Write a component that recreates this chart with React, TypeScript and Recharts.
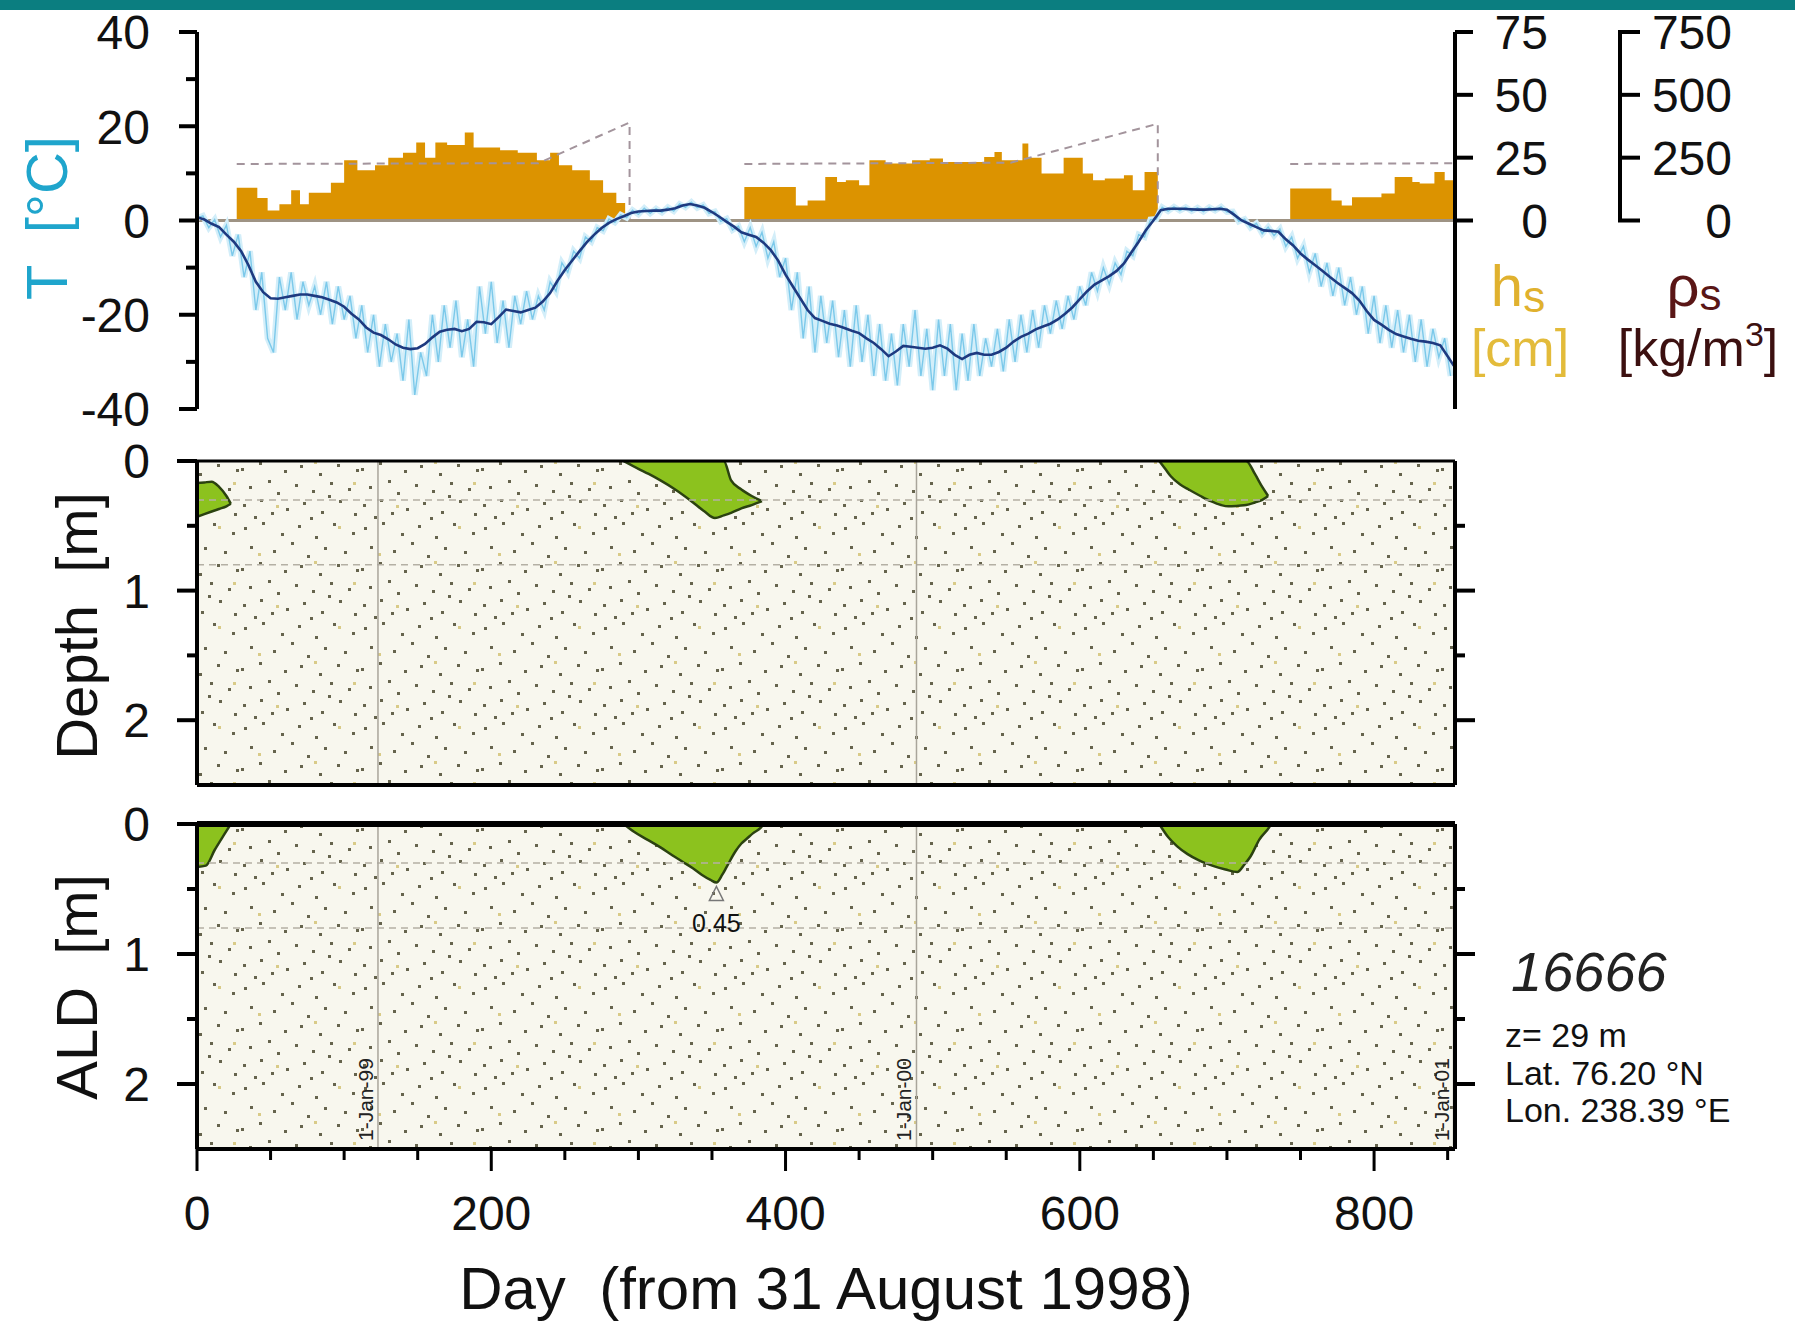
import React from "react";
import {
  ComposedChart,
  Area,
  Line,
  XAxis,
  YAxis,
  CartesianGrid,
  ReferenceLine,
  ReferenceDot,
} from "recharts";

const FONT = "'Liberation Sans', Arial, Helvetica, sans-serif";
const W = 1795;
const H = 1321;
const DAY_DOMAIN: [number, number] = [0, 855];
const TOP_PLOT_H = 377;

// Daily air temperature, sampled every 4 days from day 0 (°C)
const airTemp = [
  0.5, 1.0, -1.5, 0.2, -3.5, -1.0, -7.5, -3.0, -12, -6.5, -19, -11, -25, -28, -12, -19, -11, -21, -13, -18, -14, -20, -13, -22, -14,
  -21, -16, -25, -18, -28, -20, -31, -22, -30, -24, -34, -21, -37, -28, -33, -20, -30, -18, -27, -17, -29, -21, -31, -14, -24,
  -13, -26, -17, -27, -16, -22, -15, -21, -16, -19, -13, -15, -9, -11, -6.5, -8, -3.5, -4.5, -1.5, -2.2, 0.3, -0.4, 1.2, 0.6, 2.2,
  1.3, 2.6, 1.5, 2.5, 1.7, 2.8, 2.0, 3.5, 2.8, 3.9, 2.7, 3.3, 1.5, 1.9, -0.2, 0.4, -2.0, -1.2, -4.5, -1.5, -5.5, -2.5, -8, -4.5, -12,
  -8, -19, -11, -25, -14, -28, -16, -26, -17, -29, -19, -31, -18, -30, -20, -33, -22, -34, -24, -35, -22, -31, -19, -33, -23,
  -36, -21, -33, -22, -36, -24, -34, -22, -33, -25, -31, -23, -32, -21, -30, -20, -28, -19, -27, -18, -24, -17, -23, -16, -21,
  -14, -18, -11, -15, -10, -13.5, -9, -11.5, -6.5, -7.5, -3, -3.5, 0.2, 0.3, 2.8, 2.0, 2.9, 2.1, 2.8, 2.0, 2.7, 1.9, 2.8, 2.1, 2.9,
  1.8, 1.9, -0.2, 0.3, -1.5, -0.6, -2.8, -1.4, -3.2, -1.8, -5.5, -3.5, -8, -5.5, -11, -7, -14, -9, -16, -10, -18, -12, -20, -14, -24,
  -16, -26, -18, -27, -19, -28, -20, -30, -21, -31, -23, -29, -25, -33,
];

// Running mean of air temperature, every 5 days (°C)
const smoothTemp = [
  0.7, 0.2, -0.7, -1.4, -3, -4.5, -6.5, -9.5, -13, -15.2,
  -16.5, -16.6, -16.3, -16, -15.7, -15.7, -16, -16.3, -16.8, -17.4,
  -18.3, -19.8, -21, -22.7, -23.8, -24.3, -25.2, -26.3, -27, -27.3,
  -27.1, -26.2, -24.8, -23.6, -23.2, -23, -23.5, -23, -21.5, -21.6,
  -22, -20.5, -18.9, -19.2, -19.5, -19, -18.5, -17.2, -15.4, -12.8,
  -10.5, -8.5, -6.5, -4.6, -3, -1.6, -0.5, 0.3, 0.9, 1.6,
  1.9, 2, 2.1, 2.1, 2.3, 2.6, 3.2, 3.5, 3.2, 2.7,
  1.8, 0.8, -0.3, -1.3, -2.5, -3, -3.5, -4.7, -6.3, -8.5,
  -11.5, -14, -16.5, -19, -20.7, -21.3, -21.9, -22.3, -22.8, -23.4,
  -23.9, -25, -26, -27.3, -28.8, -27.8, -26.6, -26.8, -27, -27.2,
  -27, -26.5, -27.2, -28.5, -29.4, -28.5, -28.1, -28.5, -28.5, -27.9,
  -27, -25.7, -24.7, -24, -23.1, -22.5, -21.9, -21, -19.8, -18.4,
  -16.7, -15, -13.6, -12.7, -11.8, -10.7, -9.1, -6.8, -4.5, -2,
  0, 2.2, 2.5, 2.5, 2.5, 2.4, 2.3, 2.3, 2.4, 2.5,
  2.3, 1.2, 0, -0.7, -1.4, -2.1, -2.2, -2.4, -4, -5.3,
  -7, -8.3, -9.5, -10.7, -12, -13.2, -14.3, -15.4, -17, -19.2,
  -21.1, -22.1, -23.2, -24.1, -24.6, -25.1, -25.5, -25.7, -26, -26.5,
  -28.8, -31.2,
];

// Snow depth (cm), one array per winter
const snowWinter1 = [
  { day: 27, hs: 13 }, { day: 41, hs: 9 }, { day: 48, hs: 4 }, { day: 56, hs: 6.5 }, { day: 64, hs: 12 },
  { day: 70, hs: 6.5 }, { day: 76, hs: 11 }, { day: 91, hs: 15 }, { day: 100, hs: 24 }, { day: 109, hs: 20 },
  { day: 121, hs: 22 }, { day: 130, hs: 25 }, { day: 140, hs: 27 }, { day: 149, hs: 31 }, { day: 155, hs: 25 },
  { day: 162, hs: 31 }, { day: 170, hs: 30 }, { day: 182, hs: 35 }, { day: 188, hs: 29 }, { day: 206, hs: 28 },
  { day: 218, hs: 27 }, { day: 231, hs: 24 }, { day: 240, hs: 27 }, { day: 246, hs: 22 }, { day: 255, hs: 20 },
  { day: 267, hs: 16 }, { day: 276, hs: 11 }, { day: 285, hs: 7 }, { day: 291, hs: 0 },
];
const snowWinter2 = [
  { day: 372, hs: 13.3 }, { day: 407, hs: 6 }, { day: 415, hs: 8 }, { day: 427, hs: 17.3 }, { day: 435, hs: 15.3 },
  { day: 441, hs: 16 }, { day: 450, hs: 14 }, { day: 457, hs: 24 }, { day: 468, hs: 22.7 }, { day: 486, hs: 24 },
  { day: 498, hs: 24.7 }, { day: 507, hs: 23.3 }, { day: 535, hs: 25.3 }, { day: 542, hs: 27.3 }, { day: 547, hs: 24 },
  { day: 561, hs: 30.6 }, { day: 565, hs: 25 }, { day: 574, hs: 18.7 }, { day: 589, hs: 25 }, { day: 602, hs: 18.7 },
  { day: 609, hs: 16 }, { day: 617, hs: 16.7 }, { day: 630, hs: 18 }, { day: 636, hs: 12 }, { day: 644, hs: 19.3 },
  { day: 653, hs: 0 },
];
const snowWinter3 = [
  { day: 743, hs: 12.7 }, { day: 771, hs: 8 }, { day: 778, hs: 6 }, { day: 785, hs: 9.3 }, { day: 805, hs: 10.7 },
  { day: 814, hs: 17.3 }, { day: 826, hs: 15.3 }, { day: 831, hs: 14.7 }, { day: 841, hs: 19.3 }, { day: 848, hs: 16 },
  { day: 855, hs: 16 },
];

// Snow density (kg/m3)
const rhoWinter1 = [{ day: 27, rho: 225 }, { day: 232, rho: 228 }, { day: 294, rho: 390 }, { day: 294, rho: 0 }];
const rhoWinter2 = [{ day: 372, rho: 225 }, { day: 553, rho: 230 }, { day: 653, rho: 385 }, { day: 653, rho: 0 }];
const rhoWinter3 = [{ day: 743, rho: 225 }, { day: 855, rho: 228 }];

// Thawed soil (T > 0) in the depth profile: [upper, lower] depth in m
const thawFall98 = [
  { day: 0, d: [0.17, 0.43] }, { day: 5, d: [0.165, 0.41] }, { day: 10, d: [0.16, 0.39] },
  { day: 15, d: [0.2, 0.37] }, { day: 20, d: [0.27, 0.35] }, { day: 23, d: [0.33, 0.33] },
];
const thawSummer99 = [
  { day: 290, d: [0, 0] }, { day: 300, d: [0, 0.06] }, { day: 307, d: [0, 0.1] }, { day: 315, d: [0, 0.15] },
  { day: 325, d: [0, 0.22] }, { day: 336, d: [0, 0.31] }, { day: 345, d: [0, 0.39] }, { day: 352, d: [0, 0.44] },
  { day: 358, d: [0, 0.42] }, { day: 363, d: [0.15, 0.4] }, { day: 370, d: [0.22, 0.365] },
  { day: 377, d: [0.27, 0.34] }, { day: 384, d: [0.31, 0.31] },
];
const thawSummer00 = [
  { day: 654, d: [0, 0] }, { day: 658, d: [0, 0.06] }, { day: 662, d: [0, 0.12] }, { day: 668, d: [0, 0.18] },
  { day: 674, d: [0, 0.22] }, { day: 682, d: [0, 0.27] }, { day: 689, d: [0, 0.31] }, { day: 696, d: [0, 0.34] },
  { day: 701, d: [0, 0.35] }, { day: 708, d: [0, 0.345] }, { day: 713, d: [0, 0.34] }, { day: 719, d: [0.1, 0.32] },
  { day: 724, d: [0.2, 0.3] }, { day: 728, d: [0.27, 0.27] },
];

// Active layer depth (m)
const aldPeak99 = { day: 353, depth: 0.45 };
const aldFall98 = [
  { day: 0, d: [0, 0.33] }, { day: 6, d: [0, 0.32] }, { day: 12, d: [0, 0.2] }, { day: 18, d: [0, 0.09] }, { day: 23, d: [0, 0] },
];
const aldSummer99 = [
  { day: 290, d: [0, 0] }, { day: 297, d: [0, 0.06] }, { day: 306, d: [0, 0.12] }, { day: 315, d: [0, 0.18] },
  { day: 323, d: [0, 0.24] }, { day: 330, d: [0, 0.29] }, { day: 337, d: [0, 0.34] }, { day: 343, d: [0, 0.39] },
  { day: 349, d: [0, 0.43] }, { day: aldPeak99.day, d: [0, aldPeak99.depth] }, { day: 357, d: [0, 0.39] },
  { day: 360, d: [0, 0.33] }, { day: 366, d: [0, 0.21] }, { day: 370, d: [0, 0.15] }, { day: 374, d: [0, 0.11] },
  { day: 378, d: [0, 0.07] }, { day: 383, d: [0, 0.03] }, { day: 385, d: [0, 0] },
];
const aldSummer00 = [
  { day: 654, d: [0, 0] }, { day: 660, d: [0, 0.1] }, { day: 666, d: [0, 0.17] }, { day: 673, d: [0, 0.23] },
  { day: 681, d: [0, 0.28] }, { day: 690, d: [0, 0.32] }, { day: 699, d: [0, 0.35] }, { day: 707, d: [0, 0.37] },
  { day: 712, d: [0, 0.31] }, { day: 716, d: [0, 0.25] }, { day: 722, d: [0, 0.12] }, { day: 729, d: [0, 0.02] },
  { day: 730, d: [0, 0] },
];

const janFirsts = [
  { day: 123, label: "1-Jan-99" },
  { day: 489, label: "1-Jan-00" },
  { day: 854, label: "1-Jan-01" },
];
const sensorDepths = [0.3, 0.8];

const tempTicks = [-40, -30, -20, -10, 0, 10, 20, 30, 40];
const snowTicks = [0, 25, 50, 75];
const rhoTicks = [0, 250, 500, 750];
const depthTicks = [0, 0.5, 1, 1.5, 2];
const dayTicks = [0, 50, 100, 150, 200, 250, 300, 350, 400, 450, 500, 550, 600, 650, 700, 750, 800, 850];

const airSeries = airTemp.map((t, i) => ({ day: i * 4, t }));
const smoothSeries = smoothTemp.map((t, i) => ({ day: i * 5, t }));

// background stipple for the soil panels (one 120x100 tile)
const darkDots = [
  [4, 7], [22, 2], [41, 13], [58, 5], [75, 16], [93, 3], [112, 12],
  [10, 26], [33, 30], [51, 22], [67, 35], [84, 27], [104, 31],
  [1, 48], [19, 42], [44, 50], [60, 45], [79, 53], [97, 44], [116, 49],
  [9, 66], [28, 60], [37, 72], [55, 64], [72, 70], [90, 62], [108, 68],
  [3, 84], [20, 79], [46, 88], [63, 82], [81, 91], [99, 80], [114, 93],
  [14, 96], [31, 92], [70, 97], [88, 75],
];
const lightDots = [[18, 33], [74, 41], [98, 6], [36, 85], [113, 62]];

const SNOW = "#dc9300";
const GREEN = "#8cc21e";
const GREEN_EDGE = "#2b4210";

const tickText = { fontFamily: FONT, fontSize: 48, fill: "#111" };

function renderTempTick(props: any) {
  const { x, y, payload } = props;
  const major = payload.value % 20 === 0;
  return (
    <g>
      <line x1={x - (major ? 18 : 11)} x2={x} y1={y} y2={y} stroke="#000" strokeWidth={4} />
      {major && (
        <text x={x - 47} y={y} dy="0.36em" textAnchor="end" {...tickText}>
          {payload.value}
        </text>
      )}
    </g>
  );
}

function renderSnowTick(props: any) {
  const { x, y, payload } = props;
  return (
    <g>
      <line x1={x} x2={x + 18} y1={y} y2={y} stroke="#000" strokeWidth={4} />
      <text x={x + 93} y={y} dy="0.36em" textAnchor="end" {...tickText}>
        {payload.value}
      </text>
    </g>
  );
}

function renderRhoTick(props: any) {
  const { x, y, payload } = props;
  const step = TOP_PLOT_H / 6;
  return (
    <g>
      <line x1={x} x2={x + 18} y1={y} y2={y} stroke="#000" strokeWidth={4} strokeLinecap="square" />
      {payload.value > 0 && <line x1={x} x2={x} y1={y} y2={y + step} stroke="#000" strokeWidth={4} />}
      <text x={x + 112} y={y} dy="0.36em" textAnchor="end" {...tickText}>
        {payload.value}
      </text>
    </g>
  );
}

function renderDepthTick(props: any) {
  const { x, y, payload } = props;
  const major = Number.isInteger(payload.value);
  return (
    <g>
      <line x1={x - (major ? 20 : 10)} x2={x} y1={y} y2={y} stroke="#000" strokeWidth={4} />
      {major && (
        <text x={x - 47} y={y} dy="0.36em" textAnchor="end" {...tickText}>
          {payload.value}
        </text>
      )}
    </g>
  );
}

function renderDepthTickRight(props: any) {
  const { x, y, payload } = props;
  const major = Number.isInteger(payload.value);
  return <line x1={x} x2={x + (major ? 20 : 10)} y1={y} y2={y} stroke="#000" strokeWidth={4} />;
}

function renderDayTick(props: any) {
  const { x, y, payload } = props;
  const major = payload.value % 200 === 0;
  return (
    <g>
      <line x1={x} x2={x} y1={y} y2={y + (major ? 22 : 11)} stroke="#000" strokeWidth={3} />
      {major && (
        <text x={x} y={y + 64} dy="0.36em" textAnchor="middle" {...tickText}>
          {payload.value}
        </text>
      )}
    </g>
  );
}

const janLabel = (text: string) => (props: any) => {
  const vb = props.viewBox || {};
  const x = (vb.x ?? 0) - 5;
  const y = (vb.y ?? 0) + (vb.height ?? 0) - 8;
  return (
    <text x={x} y={y} transform={`rotate(-90 ${x} ${y})`} fontFamily={FONT} fontSize={21} fill="#222">
      {text}
    </text>
  );
};

function renderAldPeak(props: any) {
  const { cx, cy } = props;
  return (
    <g>
      <path d={`M${cx},${cy + 4} L${cx - 7},${cy + 18} L${cx + 7},${cy + 18} Z`} fill="none" stroke="#777" strokeWidth={1.5} />
      <text x={cx} y={cy + 40} dy="0.36em" textAnchor="middle" fontFamily={FONT} fontSize={25} fill="#111">
        {aldPeak99.depth.toFixed(2)}
      </text>
    </g>
  );
}

function Stipple({ id }: { id: string }) {
  return (
    <defs>
      <pattern id={id} width={120} height={100} patternUnits="userSpaceOnUse">
        <rect width={120} height={100} fill="#f8f7ee" />
        {darkDots.map(([x, y], i) => (
          <rect key={`d${i}`} x={x} y={y} width={3} height={3} fill="#66644d" />
        ))}
        {lightDots.map(([x, y], i) => (
          <rect key={`l${i}`} x={x} y={y} width={3} height={3} fill="#d9cb88" />
        ))}
      </pattern>
    </defs>
  );
}

function thawArea(data: any[], key: string) {
  return (
    <Area
      key={key}
      yAxisId="d"
      data={data}
      dataKey="d"
      type="monotone"
      fill={GREEN}
      fillOpacity={1}
      stroke={GREEN_EDGE}
      strokeWidth={2.5}
      isAnimationActive={false}
      dot={false}
      activeDot={false}
    />
  );
}

function depthAxes() {
  return [
    <YAxis
      key="yl"
      yAxisId="d"
      domain={[0, 2.5]}
      reversed
      ticks={depthTicks}
      interval={0}
      width={80}
      allowDataOverflow
      axisLine={{ stroke: "#000", strokeWidth: 4 }}
      tickLine={false}
      tickSize={0}
      tickMargin={0}
      tick={renderDepthTick}
    />,
    <YAxis
      key="yr"
      yAxisId="dr"
      orientation="right"
      domain={[0, 2.5]}
      reversed
      ticks={[0.5, 1, 1.5, 2]}
      interval={0}
      width={80}
      allowDataOverflow
      axisLine={{ stroke: "#000", strokeWidth: 4 }}
      tickLine={false}
      tickSize={0}
      tickMargin={0}
      tick={renderDepthTickRight}
    />,
  ];
}

function gridLines(withLabels: boolean) {
  return [
    ...sensorDepths.map((d) => (
      <ReferenceLine key={`h${d}`} yAxisId="d" y={d} stroke="#b4b0a4" strokeWidth={1.5} strokeDasharray="7 5" />
    )),
    ...janFirsts
      .filter((j) => withLabels || j.day < 800)
      .map((j) => (
        <ReferenceLine
          key={`v${j.day}`}
          yAxisId="d"
          x={j.day}
          stroke="#a9a59b"
          strokeWidth={1.5}
          label={withLabels ? janLabel(j.label) : undefined}
        />
      )),
  ];
}

export default function App() {
  return (
    <div style={{ position: "absolute", left: 0, top: 0, width: W, height: H, background: "#fff", overflow: "hidden", fontFamily: FONT }}>
      <div style={{ position: "absolute", left: 0, top: 0, width: W, height: 10, background: "#0b7e80" }} />

      {/* Air temperature, snow depth and density */}
      <div style={{ position: "absolute", left: 0, top: 0 }}>
        <ComposedChart width={W} height={450} margin={{ top: 32, right: 0, bottom: 41, left: 117 }}>
          <XAxis type="number" dataKey="day" domain={DAY_DOMAIN} allowDataOverflow hide />
          <YAxis
            yAxisId="T"
            domain={[-40, 40]}
            ticks={tempTicks}
            interval={0}
            width={80}
            allowDataOverflow
            axisLine={{ stroke: "#000", strokeWidth: 4 }}
            tickLine={false}
            tickSize={0}
            tickMargin={0}
            tick={renderTempTick}
          />
          <YAxis
            yAxisId="hs"
            orientation="right"
            domain={[-75, 75]}
            ticks={snowTicks}
            interval={0}
            width={165}
            allowDataOverflow
            axisLine={{ stroke: "#000", strokeWidth: 4 }}
            tickLine={false}
            tickSize={0}
            tickMargin={0}
            tick={renderSnowTick}
          />
          <YAxis
            yAxisId="rho"
            orientation="right"
            domain={[-750, 750]}
            ticks={rhoTicks}
            interval={0}
            width={175}
            allowDataOverflow
            axisLine={false}
            tickLine={false}
            tickSize={0}
            tickMargin={0}
            tick={renderRhoTick}
          />

          {[snowWinter1, snowWinter2, snowWinter3].map((s, i) => (
            <Area
              key={`snow${i}`}
              yAxisId="hs"
              data={s}
              dataKey="hs"
              type="stepAfter"
              baseValue={0}
              fill={SNOW}
              fillOpacity={1}
              stroke="none"
              isAnimationActive={false}
              dot={false}
              activeDot={false}
            />
          ))}
          {[rhoWinter1, rhoWinter2, rhoWinter3].map((r, i) => (
            <Line
              key={`rho${i}`}
              yAxisId="rho"
              data={r}
              dataKey="rho"
              type="linear"
              stroke="#a3949c"
              strokeWidth={2}
              strokeDasharray="8 6"
              dot={false}
              activeDot={false}
              isAnimationActive={false}
            />
          ))}
          <ReferenceLine yAxisId="T" y={0} stroke="#9e9384" strokeWidth={3} />

          <Line yAxisId="T" data={airSeries} dataKey="t" type="linear" stroke="#d3eef9" strokeWidth={6} dot={false} activeDot={false} isAnimationActive={false} />
          <Line yAxisId="T" data={airSeries} dataKey="t" type="linear" stroke="#7cc9ea" strokeWidth={1.4} dot={false} activeDot={false} isAnimationActive={false} />
          <Line yAxisId="T" data={smoothSeries} dataKey="t" type="linear" stroke="#1e3a80" strokeWidth={2.6} dot={false} activeDot={false} isAnimationActive={false} />
        </ComposedChart>
      </div>

      {/* Soil temperature: thawed zone */}
      <div style={{ position: "absolute", left: 0, top: 420 }}>
        <ComposedChart width={W} height={380} margin={{ top: 41, right: 260, bottom: 15, left: 117 }}>
          <Stipple id="stippleMid" />
          <CartesianGrid yAxisId="d" horizontal={false} vertical={false} fill="url(#stippleMid)" fillOpacity={1} />
          <XAxis type="number" dataKey="day" domain={DAY_DOMAIN} allowDataOverflow hide />
          {depthAxes()}
          {gridLines(false)}
          {thawArea(thawFall98, "t1")}
          {thawArea(thawSummer99, "t2")}
          {thawArea(thawSummer00, "t3")}
          <ReferenceLine yAxisId="d" y={0} stroke="#000" strokeWidth={3} />
          <ReferenceLine yAxisId="d" y={2.5} stroke="#000" strokeWidth={4} />
        </ComposedChart>
      </div>

      {/* Active layer depth */}
      <div style={{ position: "absolute", left: 0, top: 780 }}>
        <ComposedChart width={W} height={541} margin={{ top: 44, right: 260, bottom: 72, left: 117 }}>
          <Stipple id="stippleAld" />
          <CartesianGrid yAxisId="d" horizontal={false} vertical={false} fill="url(#stippleAld)" fillOpacity={1} />
          <XAxis
            type="number"
            dataKey="day"
            domain={DAY_DOMAIN}
            allowDataOverflow
            ticks={dayTicks}
            interval={0}
            height={100}
            axisLine={{ stroke: "#000", strokeWidth: 4 }}
            tickLine={false}
            tickSize={0}
            tickMargin={0}
            tick={renderDayTick}
          />
          {depthAxes()}
          {gridLines(true)}
          {thawArea(aldFall98, "a1")}
          {thawArea(aldSummer99, "a2")}
          {thawArea(aldSummer00, "a3")}
          <ReferenceDot yAxisId="d" x={aldPeak99.day} y={aldPeak99.depth} r={0} shape={renderAldPeak} />
          <ReferenceLine yAxisId="d" y={0} stroke="#000" strokeWidth={6} />
        </ComposedChart>
      </div>

      <svg width={W} height={H} style={{ position: "absolute", left: 0, top: 0, pointerEvents: "none" }} fontFamily={FONT}>
        <text transform="translate(46,218) rotate(-90)" textAnchor="middle" dy="0.36em" fontSize={58} fill="#1fa5cc" style={{ whiteSpace: "pre" }}>
          T  [°C]
        </text>
        <text transform="translate(76,626) rotate(-90)" textAnchor="middle" dy="0.36em" fontSize={58} fill="#111" style={{ whiteSpace: "pre" }}>
          Depth  [m]
        </text>
        <text transform="translate(76,987) rotate(-90)" textAnchor="middle" dy="0.36em" fontSize={58} fill="#111" style={{ whiteSpace: "pre" }}>
          ALD  [m]
        </text>

        <text x={1518} y={306} textAnchor="middle" fontSize={58} fill="#e0b12e">
          h<tspan fontSize={44} dy={6}>s</tspan>
        </text>
        <text x={1520} y={366} textAnchor="middle" fontSize={52} fill="#e3bb3a">
          [cm]
        </text>
        <text x={1694} y={306} textAnchor="middle" fontSize={58} fill="#5a1616">
          ρ<tspan fontSize={44} dy={4}>s</tspan>
        </text>
        <text x={1698} y={366} textAnchor="middle" fontSize={52} fill="#3c1010">
          [kg/m<tspan fontSize={34} dy={-20}>3</tspan>
          <tspan dy={20}>]</tspan>
        </text>

        <text x={1511} y={991} fontSize={56} fontStyle="italic" fill="#222">
          16666
        </text>
        <text x={1505} y={1047} fontSize={34} fill="#111">
          z= 29 m
        </text>
        <text x={1505} y={1085} fontSize={34} fill="#111">
          Lat. 76.20 °N
        </text>
        <text x={1505} y={1122} fontSize={34} fill="#111">
          Lon. 238.39 °E
        </text>

        <text x={826} y={1309} textAnchor="middle" fontSize={60} fill="#111" style={{ whiteSpace: "pre" }}>
          Day  (from 31 August 1998)
        </text>
      </svg>
    </div>
  );
}
